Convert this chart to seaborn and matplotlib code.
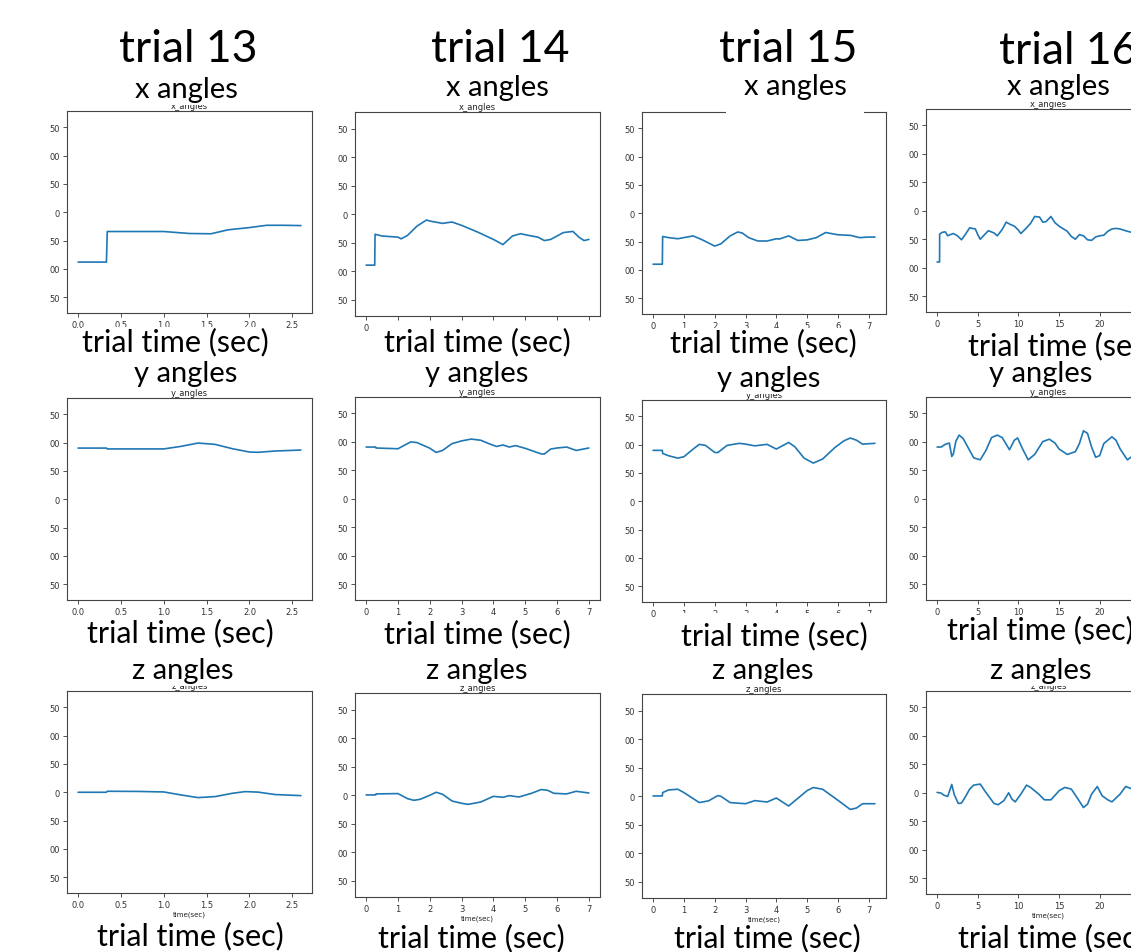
import matplotlib
matplotlib.use("Agg")
import matplotlib.pyplot as plt
import pandas as pd
import seaborn as sns

# ---- labels -------------------------------------------------------------
trial_names = ["trial 13", "trial 14", "trial 15", "trial 16"]
angle_names = ["x angles", "y angles", "z angles"]
axis_titles = ["x_angles", "y_angles", "z_angles"]
time_label = "trial time (sec)"
small_xlabel = "time(sec)"
ytick_values = [150, 100, 50, 0, -50, -100, -150]
ytick_labels = ["50", "00", "50", "0", "50", "00", "50"]
xticks_13 = [0.0, 0.5, 1.0, 1.5, 2.0, 2.5]
xticks_14 = [0, 1, 2, 3, 4, 5, 6, 7]
xticks_15 = [0, 1, 2, 3, 4, 5, 6, 7]
xticks_16 = [0, 5, 10, 15, 20, 25]

# ---- trial 13 -----------------------------------------------------------
t13_x_time = [0, 0.33, 0.34, 0.6, 1.0, 1.3, 1.55, 1.75, 2.0, 2.2, 2.4, 2.6]
t13_x = [-88, -88, -34, -34, -34, -37.5, -38, -31, -27, -23, -23, -23.5]
t13_y_time = [0, 0.33, 0.34, 0.7, 1.0, 1.2, 1.4, 1.6, 1.8, 2.0, 2.1, 2.3, 2.6]
t13_y = [90.5, 90.5, 89, 89, 89, 93.5, 99.4, 97, 89.4, 83.5, 83, 85.3, 87]
t13_z_time = [0, 0.33, 0.34, 0.7, 1.0, 1.2, 1.4, 1.6, 1.8, 1.95, 2.1, 2.3, 2.6]
t13_z = [0, 0, 1.8, 1.5, 0.6, -4.7, -9.4, -7.6, -1.8, 1.2, 0.3, -4, -5.9]

# ---- trial 14 -----------------------------------------------------------
t14_x_time = [0, 0.27, 0.28, 0.5, 1.0, 1.1, 1.3, 1.6, 1.9, 2.0, 2.4, 2.7, 3.0,
              3.5, 4.0, 4.3, 4.6, 4.85, 5.2, 5.4, 5.6, 5.8, 6.2, 6.5, 6.7,
              6.85, 7.0]
t14_x = [-89, -89, -35, -38, -40, -43, -37, -20.6, -10, -11.8, -15.9, -13.5,
         -19.4, -31, -44, -53, -38, -34, -38, -40, -46, -44, -32, -30, -40.6,
         -46, -44]
t14_y_time = [0, 0.3, 0.31, 1.0, 1.2, 1.4, 1.6, 2.0, 2.2, 2.4, 2.7, 3.0, 3.3,
              3.6, 3.9, 4.1, 4.3, 4.5, 4.7, 5.0, 5.5, 5.6, 5.8, 6.0, 6.3, 6.6,
              7.0]
t14_y = [91, 91, 89.3, 88, 94, 100, 98.8, 89, 81.5, 85, 97, 101.8, 105, 103,
         96, 92, 94.6, 91, 93.5, 88.7, 79, 78.6, 87.5, 89.3, 91, 85, 89.3]
t14_z_time = [0, 0.3, 0.31, 1.0, 1.3, 1.5, 1.7, 2.0, 2.2, 2.4, 2.7, 3.0, 3.2,
              3.6, 4.0, 4.3, 4.5, 4.8, 5.2, 5.5, 5.7, 5.9, 6.3, 6.6, 7.0]
t14_z = [0.6, 0.6, 2.4, 3, -5.9, -8.8, -7, 0, 5.3, 1.8, -10, -14, -15.9,
         -11.8, -1.8, -3.5, -0.6, -3, 3.5, 10, 8.8, 3.5, 2.4, 7, 4]

# ---- trial 15 -----------------------------------------------------------
t15_x_time = [0, 0.3, 0.31, 0.5, 0.8, 1.0, 1.3, 1.6, 2.0, 2.2, 2.5, 2.75, 2.9,
              3.1, 3.4, 3.7, 4.0, 4.1, 4.4, 4.7, 5.0, 5.3, 5.6, 6.0, 6.4, 6.7,
              7.0, 7.2]
t15_x = [-90, -90, -41, -43, -45, -43, -40, -47, -58, -54, -40, -33, -35, -43,
         -49, -49, -45, -45.5, -40, -48, -47, -43, -34, -38, -39, -43, -42, -42]
t15_y_time = [0, 0.3, 0.31, 0.5, 0.8, 1.0, 1.3, 1.5, 1.7, 2.0, 2.1, 2.4, 2.8,
              3.0, 3.3, 3.7, 4.0, 4.4, 4.6, 4.9, 5.2, 5.5, 5.9, 6.2, 6.4, 6.6,
              6.8, 7.2]
t15_y = [90, 90, 84.6, 80.5, 76.3, 78.7, 92.3, 100.6, 98.8, 86.4, 86, 98.8,
         102.4, 101, 98, 100.6, 92.3, 104, 96.4, 76.3, 67.5, 74.6, 95, 107,
         111.8, 108, 101, 102.4]
t15_z_time = [0, 0.3, 0.31, 0.5, 0.8, 1.0, 1.5, 1.8, 2.1, 2.2, 2.5, 3.0, 3.3,
              3.7, 4.0, 4.4, 4.7, 5.0, 5.2, 5.5, 6.0, 6.4, 6.6, 6.8, 7.2]
t15_z = [0.6, 0.6, 6.5, 11, 12.4, 6.5, -11, -8, 1.2, 0, -11, -13, -7.6, -10,
         -3, -17, -3.5, 10, 15.3, 12.4, -7, -23, -20.6, -13, -13]

# ---- trial 16 -----------------------------------------------------------
t16_x_time = [0, 0.3, 0.31, 0.6, 1.0, 1.3, 1.6, 2.0, 2.5, 3.0, 3.5, 4.0, 4.7,
              5.0, 5.3, 5.7, 6.3, 7.0, 7.4, 8.0, 8.5, 9.0, 9.5, 10.0, 10.3,
              11.0, 11.5, 12.0, 12.6, 13.0, 13.4, 14.0, 14.5, 15.0, 16.0, 16.5,
              17.0, 17.5, 18.0, 18.5, 19.0, 19.5, 20.0, 20.5, 21.0, 21.5, 22.0,
              22.5, 23.4, 24.5, 25.5, 26.5, 27.4]
t16_x = [-90, -90, -41, -38, -37, -44, -42, -40, -44, -51, -41, -30, -32, -42,
         -50, -44, -35, -39, -44, -33, -20, -24, -27, -34, -40, -30, -22, -10,
         -11, -20, -19, -10, -21, -27, -36, -45, -50, -42, -44, -51, -52, -46,
         -44, -43, -36, -32, -31, -32, -36, -40, -38, -42, -40]
t16_y_time = [0, 0.5, 1.0, 1.5, 1.8, 2.0, 2.3, 2.7, 3.2, 4.0, 4.5, 5.3, 6.0,
              6.7, 7.4, 8.0, 8.9, 9.5, 9.9, 10.5, 11.2, 12.0, 13.0, 13.8, 14.5,
              15.0, 16.0, 17.0, 17.5, 18.0, 18.5, 19.0, 19.5, 20.0, 20.5, 21.5,
              22.0, 22.5, 23.4, 24.5, 25.5, 26.5, 27.4]
t16_y = [91, 91, 95.8, 98, 74.4, 79, 101, 112, 106, 85, 72, 68.5, 85, 107.7,
         112, 107.7, 86.3, 103, 107, 88, 68.5, 78, 100.6, 104.8, 98, 87.5, 78,
         82.7, 97, 119.6, 115, 91, 73, 76, 97, 109, 103, 88, 68.5, 80, 100,
         92, 85]
t16_z_time = [0, 0.5, 0.8, 1.3, 1.5, 1.8, 2.1, 2.6, 3.0, 3.5, 4.0, 4.5, 5.3,
              6.0, 7.0, 7.5, 8.2, 8.8, 9.2, 9.6, 10.3, 11.0, 11.5, 12.5, 13.2,
              14.0, 15.0, 15.7, 16.5, 17.2, 18.0, 18.5, 19.0, 19.7, 20.3, 21.0,
              21.5, 22.5, 23.2, 24.5, 25.5, 26.5, 27.4]
t16_z = [0.6, -0.6, -4, -6.5, 2, 14.7, -3, -18.8, -18, -6.5, 6.5, 13.5, 15.3,
         0.6, -18.8, -21, -14, 0, -11, -16, -2.4, 13.5, 9.4, -2.4, -12.4,
         -12.4, 3.5, 9.4, 6.5, -8.2, -26, -20, -2.4, 11, -5.3, -12.4, -16,
         -2.4, 11, 4, -8, 2, -3]

series = [
    [(t13_x_time, t13_x), (t14_x_time, t14_x), (t15_x_time, t15_x), (t16_x_time, t16_x)],
    [(t13_y_time, t13_y), (t14_y_time, t14_y), (t15_y_time, t15_y), (t16_y_time, t16_y)],
    [(t13_z_time, t13_z), (t14_z_time, t14_z), (t15_z_time, t15_z), (t16_z_time, t16_z)],
]
xticks = [xticks_13, xticks_14, xticks_15, xticks_16]

# ---- layout (pixels on a 1131 x 953 canvas) -----------------------------
W, H = 1131, 953
col_lr = [(67, 312), (355, 600), (642, 886), (926, 1171)]
row_tb = [
    [(112, 314), (113, 317), (113, 315), (110, 313)],
    [(399, 601), (398, 601), (401, 603), (398, 601)],
    [(692, 894), (694, 898), (695, 899), (692, 895)],
]
trial_pos = [(188, 50), (500, 50), (788, 50), (1068, 52)]
angle_pos = [
    [(186, 90), (497, 88), (795, 87), (1058, 87)],
    [(186, 374), (477, 374), (769, 379), (1041, 374)],
    [(183, 671), (477, 671), (763, 671), (1041, 671)],
]
time_pos = [
    [(175, 342), (477, 342), (763, 343), (1061, 346)],
    [(180, 633), (477, 634), (774, 636), (1040, 630)],
    [(190, 936), (471, 938), (767, 938), (1051, 938)],
]
# panels whose lower tick labels sit under the caption box
hidden_xticklabels = {(0, 1)}

sns.set_style("ticks")
plt.rcParams["font.family"] = ["DejaVu Sans"]
big_font = ["Lato", "DejaVu Sans"]

fig = plt.figure(figsize=(W / 100, H / 100), dpi=100)
fig.patch.set_facecolor("white")

for r in range(3):
    for c in range(4):
        l, rgt = col_lr[c]
        top, bot = row_tb[r][c]
        ax = fig.add_axes([l / W, 1 - bot / H, (rgt - l) / W, (bot - top) / H])
        tt, vv = series[r][c]
        df = pd.DataFrame({"t": tt, "v": vv})
        sns.lineplot(data=df, x="t", y="v", ax=ax, estimator=None, sort=False,
                     color="#1f77b4", linewidth=1.2)
        ax.set_ylim(-178, 179)
        ax.set_yticks(ytick_values)
        ax.set_yticklabels(ytick_labels)
        ax.set_xticks(xticks[c])
        if c == 0:
            ax.set_xticklabels([f"{v:.1f}" for v in xticks[c]])
        if (r, c) in hidden_xticklabels:
            ax.set_xticklabels([str(v) if i == 0 else "" for i, v in enumerate(xticks[c])])
        span = max(tt) - min(tt)
        ax.set_xlim(min(tt) - 0.05 * span, max(tt) + 0.05 * span)
        ax.set_title(axis_titles[r], fontsize=6, pad=2, color="#222222")
        ax.set_xlabel(small_xlabel, fontsize=5, labelpad=1, color="#222222")
        ax.set_ylabel("")
        ax.tick_params(labelsize=6, length=3, width=0.6, colors="#333333",
                       pad=2)
        for s in ax.spines.values():
            s.set_visible(True)
            s.set_linewidth(0.8)
            s.set_color("#444444")

for c in range(4):
    x, y = trial_pos[c]
    fig.text(x / W, 1 - y / H, trial_names[c], fontsize=32, family=big_font,
             ha="center", va="center", color="black", zorder=10)

for r in range(3):
    for c in range(4):
        x, y = angle_pos[r][c]
        pad = 0.6 if (r == 0 and c == 2) else 0.1
        fig.text(x / W, 1 - y / H, angle_names[r], fontsize=21, family=big_font,
                 ha="center", va="center", color="black", zorder=5,
                 bbox=dict(boxstyle=f"square,pad={pad}", fc="white", ec="none"))
        x, y = time_pos[r][c]
        pad = 0.25 if (r == 1 and c == 2) else 0.0
        fig.text(x / W, 1 - y / H, time_label, fontsize=22, family=big_font,
                 ha="center", va="center", color="black", zorder=5,
                 bbox=dict(boxstyle=f"square,pad={pad}", fc="white", ec="none"))

fig.savefig("out.png", dpi=100)
